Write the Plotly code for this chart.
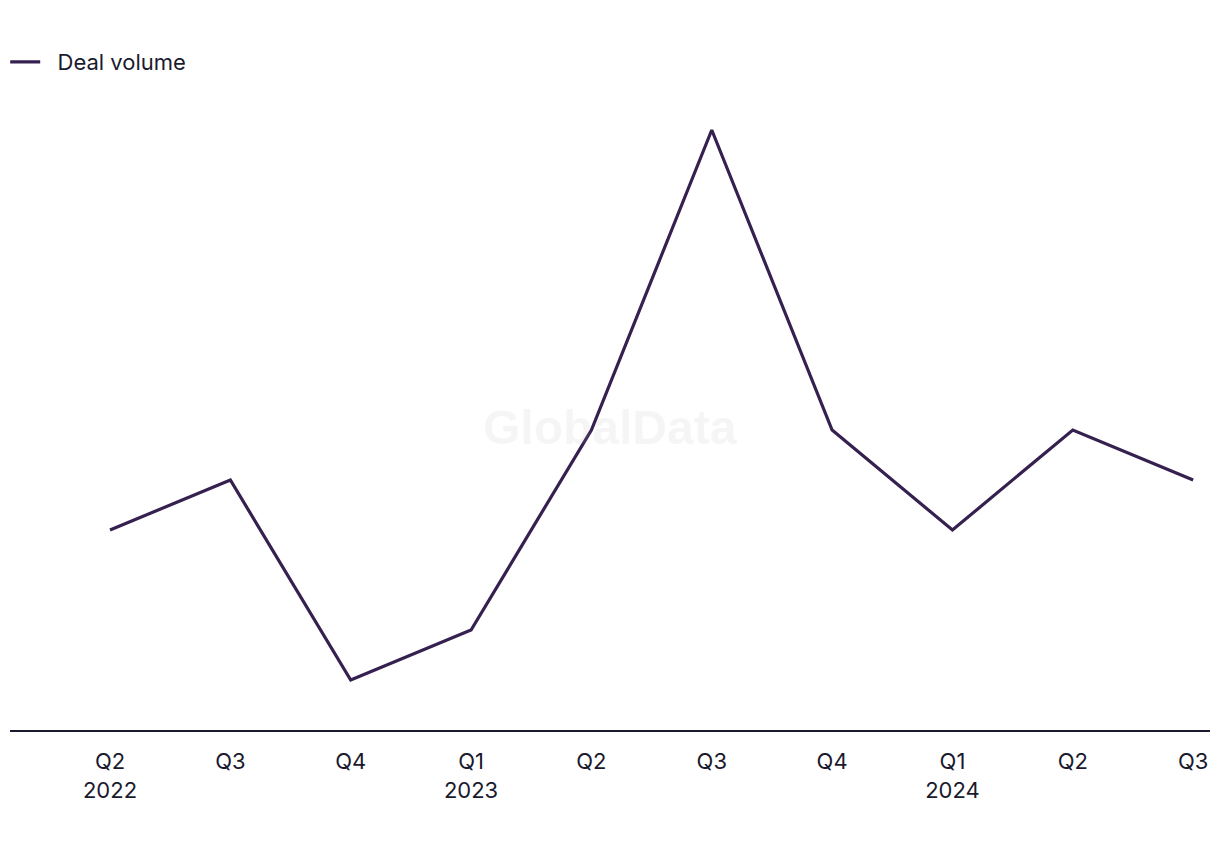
import plotly.graph_objects as go

quarters = ["Q2<br>2022", "Q3", "Q4", "Q1<br>2023", "Q2", "Q3", "Q4", "Q1<br>2024", "Q2", "Q3"]
deal_volume = [4, 5, 1, 2, 6, 12, 6, 4, 6, 5]

idx = list(range(len(quarters)))

fig = go.Figure()
fig.add_trace(go.Scatter(
    x=idx, y=deal_volume, mode="lines", name="\u00a0\u00a0Deal volume",
    line=dict(color="#35204f", width=3.2),
))

W, H = 1220, 850
ml, mr, mt, mb = 10, 10, 100, 120
ph = H - mt - mb
fig.update_layout(
    width=W, height=H,
    margin=dict(l=ml, r=mr, t=mt, b=mb, autoexpand=False),
    paper_bgcolor="white", plot_bgcolor="white",
    font=dict(family="Inter, Roboto, sans-serif", color="#1a1a2e", size=22),
    showlegend=True,
    legend=dict(x=-0.004, y=(730 - 62) / ph, xanchor="left", yanchor="middle",
                orientation="h", itemwidth=30,
                font=dict(size=22, color="#1a1a2e"), bgcolor="rgba(0,0,0,0)"),
    xaxis=dict(
        tickmode="array", tickvals=idx, ticktext=quarters,
        range=[-0.831, 9.14], showgrid=False, zeroline=False,
        showline=True, linecolor="#1a1a2e", linewidth=2,
        ticks="", ticklen=0, tickfont=dict(size=22, color="#1a1a2e"),
        ticklabelstandoff=11, automargin=False,
    ),
    yaxis=dict(range=[0, 12.6], showgrid=False, zeroline=False,
               showticklabels=False, showline=False, ticks="", automargin=False),
    annotations=[dict(
        text="<b>GlobalData</b>", x=0.5, y=(H - 428 - mb) / ph,
        xref="paper", yref="paper", showarrow=False,
        font=dict(family="Arial, Liberation Sans, sans-serif", size=48, color="rgba(180,180,180,0.12)"),
    )],
)

fig.write_html("out.html")
